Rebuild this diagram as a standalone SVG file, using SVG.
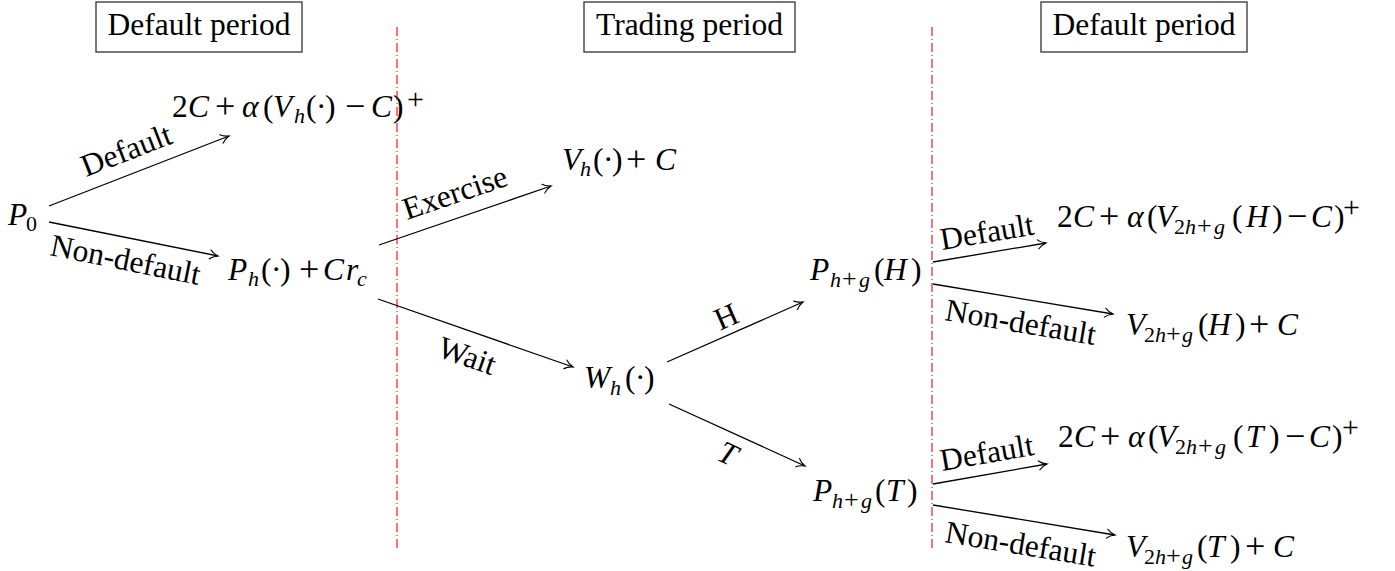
<svg xmlns="http://www.w3.org/2000/svg" width="1395" height="571" viewBox="0 0 1395 571">
<style>
.t{font-family:"Liberation Serif","Times New Roman",serif;font-size:31.5px;fill:#000}
.i{font-style:italic}
.s{font-size:22px}
.sb{font-size:26px}
.op{font-size:36px}
.sp{font-size:30px}
.box{fill:#fff;stroke:#333;stroke-width:1.3}
.sep{stroke:#ff0000;stroke-width:1.1;stroke-dasharray:9 3 1 3;fill:none}
.arr{stroke:#000;stroke-width:1.3;fill:none;marker-end:url(#ah)}
</style>
<defs>
<marker id="ah" markerUnits="userSpaceOnUse" markerWidth="14" markerHeight="14" viewBox="-10 -7 12 14" refX="0" refY="0" orient="auto">
<path d="M -8 -4.5 C -6 -2.2 -2 -0.6 0 0 C -2 0.6 -6 2.2 -8 4.5" fill="none" stroke="#000" stroke-width="1.2" stroke-linecap="round"/>
</marker>
</defs>
<rect width="1395" height="571" fill="#fff"/>

<g id="separators">
<line class="sep" x1="397" y1="27" x2="397" y2="551"/>
<line class="sep" x1="932" y1="27" x2="932" y2="551"/>
</g>

<g id="box-default-left"><rect class="box" x="96" y="2" width="206" height="50"/><text class="t" x="199" y="35" text-anchor="middle">Default period</text></g>
<g id="box-trading"><rect class="box" x="584" y="2" width="211" height="50"/><text class="t" x="689.5" y="35" text-anchor="middle">Trading period</text></g>
<g id="box-default-right"><rect class="box" x="1041" y="2" width="206" height="50"/><text class="t" x="1144" y="35" text-anchor="middle">Default period</text></g>

<g id="connectors">
<line class="arr" x1="49" y1="206" x2="229" y2="136"/>
<line class="arr" x1="49" y1="222" x2="218" y2="256"/>
<line class="arr" x1="379" y1="245" x2="551" y2="186"/>
<line class="arr" x1="378" y1="299" x2="573" y2="367"/>
<line class="arr" x1="667" y1="362" x2="803" y2="302"/>
<line class="arr" x1="669" y1="404" x2="805" y2="466"/>
<line class="arr" x1="933" y1="262" x2="1046" y2="243"/>
<line class="arr" x1="933" y1="284" x2="1113" y2="314"/>
<line class="arr" x1="933" y1="484" x2="1047" y2="464"/>
<line class="arr" x1="933" y1="505" x2="1115" y2="535"/>
<text class="t" transform="translate(86,177) rotate(-21.25)">Default</text>
<text class="t" transform="translate(49,255) rotate(11.4)">Non-default</text>
<text class="t" transform="translate(407,220) rotate(-18.9)">Exercise</text>
<text class="t" transform="translate(436,356) rotate(19.2)">Wait</text>
<text class="t" text-anchor="middle" transform="translate(726,316) rotate(-23.8)" y="11">H</text>
<text class="t i" text-anchor="middle" transform="translate(728,453) rotate(25)" y="11">T</text>
<text class="t" transform="translate(942,250) rotate(-9.5)">Default</text>
<text class="t" transform="translate(944,320) rotate(9.46)">Non-default</text>
<text class="t" transform="translate(942,471) rotate(-9.9)">Default</text>
<text class="t" transform="translate(944,542) rotate(9.36)">Non-default</text>
</g>

<g id="node-p0"><text class="t"><tspan class="i" x="8" y="225">P</tspan><tspan class="s" x="26" y="231">0</tspan></text></g>

<g id="node-default-payoff"><text class="t"><tspan x="172" y="117">2</tspan><tspan class="i" x="188" y="117">C</tspan><tspan class="op" x="215" y="118">+</tspan><tspan class="i" x="242" y="117">α</tspan><tspan x="263" y="117">(</tspan><tspan class="i" x="273" y="117">V</tspan><tspan class="i s" x="294" y="123">h</tspan><tspan x="306" y="117">(</tspan><tspan x="316" y="117">·</tspan><tspan x="325" y="117">)</tspan><tspan class="op" x="345" y="118">−</tspan><tspan class="i" x="371" y="117">C</tspan><tspan x="393" y="117">)</tspan><tspan class="sp" x="407" y="109">+</tspan></text></g>

<g id="node-ph"><text class="t"><tspan class="i" x="228" y="280">P</tspan><tspan class="i s" x="248" y="286">h</tspan><tspan x="261" y="280">(</tspan><tspan x="271" y="280">·</tspan><tspan x="280" y="280">)</tspan><tspan class="op" x="299" y="281">+</tspan><tspan class="i" x="323" y="280">C</tspan><tspan class="i" x="346" y="280">r</tspan><tspan class="i s" x="357" y="286">c</tspan></text></g>

<g id="node-exercise-payoff"><text class="t"><tspan class="i" x="562" y="170">V</tspan><tspan class="i s" x="580" y="176">h</tspan><tspan x="593" y="170">(</tspan><tspan x="603" y="170">·</tspan><tspan x="612" y="170">)</tspan><tspan class="op" x="626" y="171">+</tspan><tspan class="i" x="655" y="170">C</tspan></text></g>

<g id="node-wh"><text class="t"><tspan class="i" x="584" y="388">W</tspan><tspan class="i s" x="610" y="395">h</tspan><tspan x="625" y="388">(</tspan><tspan x="635" y="388">·</tspan><tspan x="644" y="388">)</tspan></text></g>

<g id="node-ph-h"><text class="t"><tspan class="i" x="810" y="280">P</tspan><tspan class="i s" x="830" y="287">h</tspan><tspan class="sb" x="842" y="287">+</tspan><tspan class="i s" x="859" y="287">g</tspan><tspan x="874" y="280">(</tspan><tspan class="i" x="884" y="280">H</tspan><tspan x="911" y="280">)</tspan></text></g>

<g id="node-ph-t"><text class="t"><tspan class="i" x="813" y="501">P</tspan><tspan class="i s" x="832" y="508">h</tspan><tspan class="sb" x="844" y="508">+</tspan><tspan class="i s" x="861" y="508">g</tspan><tspan x="875" y="501">(</tspan><tspan class="i" x="886" y="501">T</tspan><tspan x="907" y="501">)</tspan></text></g>

<g id="node-h-default"><text class="t"><tspan x="1057" y="227">2</tspan><tspan class="i" x="1073" y="227">C</tspan><tspan class="op" x="1099" y="228">+</tspan><tspan class="i" x="1127" y="227">α</tspan><tspan x="1147" y="227">(</tspan><tspan class="i" x="1156" y="227">V</tspan><tspan class="s" x="1174" y="234">2</tspan><tspan class="i s" x="1185" y="234">h</tspan><tspan class="sb" x="1197" y="234">+</tspan><tspan class="i s" x="1214" y="234">g</tspan><tspan x="1232" y="227">(</tspan><tspan class="i" x="1246" y="227">H</tspan><tspan x="1272" y="227">)</tspan><tspan class="op" x="1287" y="228">−</tspan><tspan class="i" x="1311" y="227">C</tspan><tspan x="1334" y="227">)</tspan><tspan class="sp" x="1343" y="217">+</tspan></text></g>

<g id="node-h-nondefault"><text class="t"><tspan class="i" x="1126" y="335">V</tspan><tspan class="s" x="1144" y="342">2</tspan><tspan class="i s" x="1155" y="342">h</tspan><tspan class="sb" x="1166" y="342">+</tspan><tspan class="i s" x="1182" y="342">g</tspan><tspan x="1198" y="335">(</tspan><tspan class="i" x="1208" y="335">H</tspan><tspan x="1235" y="335">)</tspan><tspan class="op" x="1249" y="336">+</tspan><tspan class="i" x="1277" y="335">C</tspan></text></g>

<g id="node-t-default"><text class="t"><tspan x="1058" y="447">2</tspan><tspan class="i" x="1074" y="447">C</tspan><tspan class="op" x="1100" y="448">+</tspan><tspan class="i" x="1128" y="447">α</tspan><tspan x="1148" y="447">(</tspan><tspan class="i" x="1157" y="447">V</tspan><tspan class="s" x="1175" y="454">2</tspan><tspan class="i s" x="1186" y="454">h</tspan><tspan class="sb" x="1198" y="454">+</tspan><tspan class="i s" x="1215" y="454">g</tspan><tspan x="1233" y="447">(</tspan><tspan class="i" x="1246" y="447">T</tspan><tspan x="1269" y="447">)</tspan><tspan class="op" x="1285" y="448">−</tspan><tspan class="i" x="1309" y="447">C</tspan><tspan x="1332" y="447">)</tspan><tspan class="sp" x="1342" y="437">+</tspan></text></g>

<g id="node-t-nondefault"><text class="t"><tspan class="i" x="1126" y="557">V</tspan><tspan class="s" x="1144" y="564">2</tspan><tspan class="i s" x="1155" y="564">h</tspan><tspan class="sb" x="1166" y="564">+</tspan><tspan class="i s" x="1182" y="564">g</tspan><tspan x="1197" y="557">(</tspan><tspan class="i" x="1207" y="557">T</tspan><tspan x="1230" y="557">)</tspan><tspan class="op" x="1245" y="558">+</tspan><tspan class="i" x="1273" y="557">C</tspan></text></g>
</svg>
